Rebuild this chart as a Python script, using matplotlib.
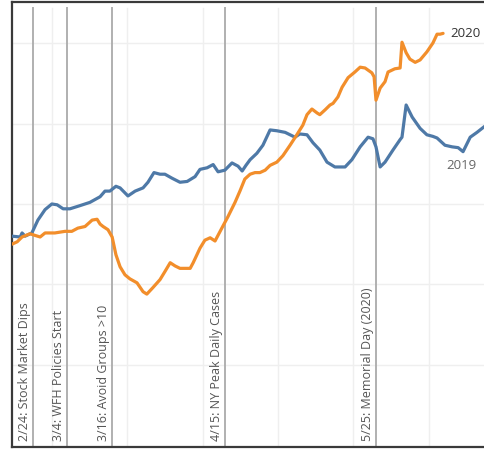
import matplotlib
matplotlib.use("Agg")
import matplotlib.pyplot as plt
import matplotlib.transforms as mtransforms

# day of year (2020 calendar) and index values
days_2019 = [49.4, 51.6, 52.1, 52.9, 54.7, 56.3, 58.2, 60.0, 61.4, 63.0, 64.8, 67.5,
             70.1, 72.8, 74.1, 75.4, 77.0, 78.1, 80.2, 82.1, 84.2, 85.5, 87.1, 88.7,
             90.0, 91.9, 94.0, 95.9, 98.0, 99.3, 101.2, 102.8, 104.1, 105.9, 107.8,
             109.4, 110.5, 111.5, 112.6, 114.4, 116.0, 117.9, 119.7, 121.9, 123.2,
             124.5, 125.8, 127.7, 129.3, 131.1, 133.0, 135.1, 137.8, 139.6, 141.8,
             143.9, 145.2, 146.0, 147.1, 148.4, 150.5, 152.4, 152.9, 154.0, 155.6,
             157.7, 159.5, 161.1, 162.2, 164.3, 166.2, 167.8, 169.1, 171.0, 172.8,
             174.7, 176.0]
vals_2019 = [86.0, 85.9, 86.4, 86.0, 86.4, 88.0, 89.3, 90.0, 89.9, 89.4, 89.4, 89.8,
             90.2, 90.9, 91.6, 91.6, 92.2, 92.0, 91.0, 91.6, 92.0, 92.7, 93.9, 93.7,
             93.7, 93.2, 92.7, 92.8, 93.4, 94.3, 94.5, 94.9, 94.0, 94.2, 95.1,
             94.7, 94.1, 94.8, 95.5, 96.3, 97.3, 99.2, 99.1, 98.9, 98.6,
             98.3, 98.7, 98.6, 97.6, 96.7, 95.2, 94.6, 94.6, 95.5, 97.1,
             98.3, 98.1, 97.1, 94.6, 95.2, 96.7, 98.0, 98.3, 102.3, 100.8,
             99.4, 98.6, 98.4, 98.2, 97.3, 97.1, 97.0, 96.5, 98.3, 98.9,
             99.6, 100.0]

days_2020 = [49.4, 50.8, 52.1, 54.2, 55.5, 56.9, 58.2, 60.8, 63.5, 65.3, 66.9, 68.8,
             70.7, 72.0, 72.8, 73.6, 74.9, 76.0, 77.0, 78.1, 79.4, 80.7, 82.6, 84.2,
             85.2, 86.8, 88.7, 90.0, 91.4, 92.7, 94.0, 96.7, 97.5, 99.3, 100.6,
             102.0, 103.3, 105.1, 106.7, 108.6, 109.9, 111.2, 112.6, 113.9, 115.2,
             116.6, 117.9, 119.7, 121.3, 123.2, 125.0, 126.6, 127.7, 129.0, 130.4,
             131.1, 132.5, 133.8, 134.6, 135.9, 137.0, 138.6, 140.4, 141.8, 143.1,
             144.9, 145.5, 146.0, 147.1, 148.4, 149.2, 151.0, 152.4, 152.9, 154.0,
             155.0, 156.4, 157.7, 159.5, 161.1, 162.2, 163.0, 163.8]
vals_2020 = [85.0, 85.3, 85.9, 86.3, 86.1, 85.9, 86.4, 86.4, 86.6, 86.6, 87.0, 87.2,
             88.0, 88.1, 87.5, 87.2, 86.8, 85.9, 83.7, 82.2, 81.2, 80.7, 80.2, 79.1,
             78.8, 79.6, 80.6, 81.6, 82.7, 82.3, 82.0, 82.0, 82.7, 84.5, 85.5,
             85.8, 85.4, 87.0, 88.4, 90.2, 91.6, 93.1, 93.7, 93.9, 93.9,
             94.2, 94.8, 95.2, 96.0, 97.3, 98.6, 99.8, 101.1, 101.8, 101.3,
             101.1, 101.7, 102.3, 102.5, 103.3, 104.5, 105.7, 106.4, 107.0, 106.9,
             106.3, 105.8, 102.9, 104.4, 105.2, 106.4, 106.8, 106.9, 110.1, 108.8,
             108.0, 107.6, 107.9, 108.9, 110.0, 111.1, 111.1, 111.2]

event_days = [55, 64, 76, 106, 146]
event_labels = ["2/24: Stock Market Dips", "3/4: WFH Policies Start",
                "3/16: Avoid Groups >10", "4/15: NY Peak Daily Cases",
                "5/25: Memorial Day (2020)"]

grid_x = [60, 80, 100, 120, 140, 160]
grid_y = [70, 80, 90, 100, 110]

blue = "#4e79a7"
orange = "#f28e2b"

plt.rcParams["font.family"] = ["Open Sans", "DejaVu Sans"]

fig = plt.figure(figsize=(4.84, 4.55), dpi=100)
ax = fig.add_axes([12 / 484, 8 / 455, 478 / 484, 445 / 455])

ax.set_xlim(49.43, 176.25)
ax.set_ylim(59.8, 115.1)

for gx in grid_x:
    ax.axvline(gx, ymin=0.005, ymax=0.986, color="#efefef", lw=1, zorder=0)
for gy in grid_y:
    ax.axhline(gy, color="#efefef", lw=1, zorder=0)

trans = mtransforms.offset_copy(ax.transData, fig=fig, x=-3, y=0, units="dots")
for d, lab in zip(event_days, event_labels):
    ax.axvline(d, ymin=0.005, ymax=0.986, color="#b0b0b0", lw=1.4, zorder=1)
    ax.text(d, 60.6, lab, rotation=90, ha="right", va="bottom", fontsize=9,
            color="#555555", transform=mtransforms.offset_copy(
                ax.transData, fig=fig, x=-2, y=0, units="dots"))

ax.plot(days_2019, vals_2019, color=blue, lw=2.3, zorder=3, solid_capstyle="round")
ax.plot(days_2020, vals_2020, color=orange, lw=2.3, zorder=3, solid_capstyle="round")

ax.annotate("2020", (days_2020[-1], vals_2020[-1]), xytext=(5, 0),
            textcoords="offset points", ha="left", va="center",
            fontsize=9.5, color="#333333")
ax.text(164.6, 94.8, "2019", ha="left", va="center", fontsize=9.5, color="#666666")

ax.set_xticks([])
ax.set_yticks([])
for side in ["left", "top", "bottom", "right"]:
    ax.spines[side].set_color("#3a3a3a")
    ax.spines[side].set_linewidth(1.6)

fig.savefig("out.png", dpi=100)
